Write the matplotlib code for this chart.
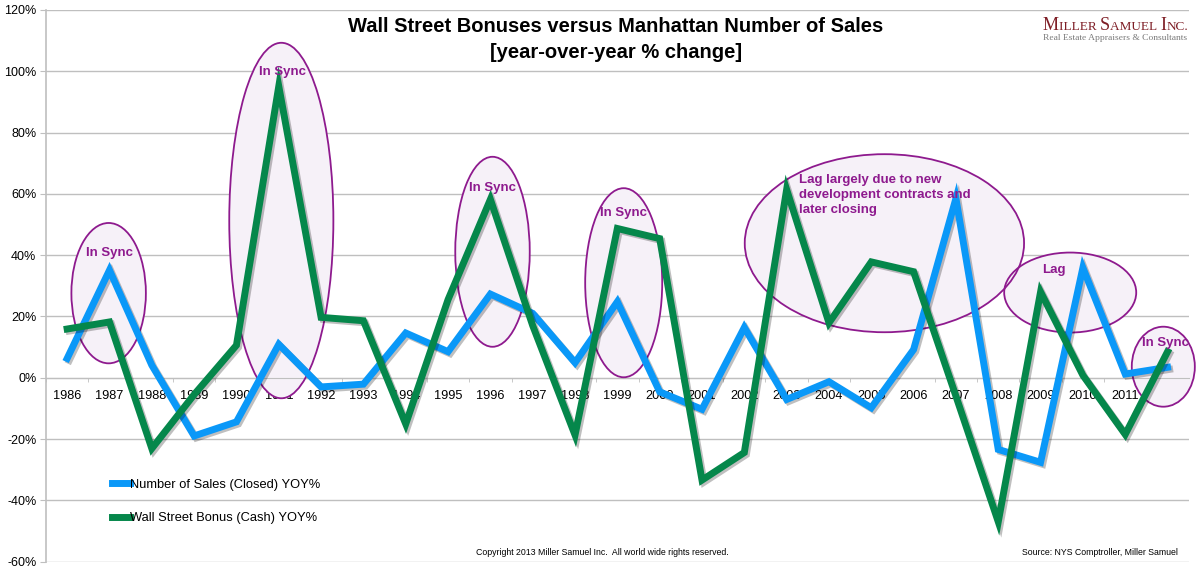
import matplotlib
matplotlib.use("Agg")
import matplotlib.pyplot as plt
import matplotlib.patheffects as pe
from matplotlib.patches import Ellipse
from matplotlib.ticker import FuncFormatter, MultipleLocator

plt.rcParams['font.family'] = ['Liberation Sans', 'DejaVu Sans']

years = list(range(1986, 2013))
sales_yoy = [6.3, 35.1, 4.1, -19.0, -14.4, 10.9, -3.0, -2.1, 14.6, 8.5, 27.3, 21.0, 4.9,
             24.8, -4.6, -10.3, 16.4, -7.1, -1.3, -9.8, 9.2, 58.5, -23.4, -27.6, 35.9, 1.2, 3.4]
bonus_yoy = [15.9, 18.2, -23.1, -5.5, 10.6, 95.1, 19.7, 18.6, -15.1, 25.5, 58.2, 17.0, -18.7,
             48.7, 45.4, -33.4, -24.4, 61.4, 17.9, 37.8, 34.6, -6.0, -47.0, 28.0, 0.8, -18.5, 8.5]

# callouts: (x center, y center, width in years, height in %)
ellipses = [(1986.98, 27.6, 1.76, 45.8), (1991.06, 51.3, 2.46, 116.0), (1996.05, 41.1, 1.76, 62.0),
            (1999.15, 31.0, 1.82, 61.7), (2005.31, 43.9, 6.6, 58.1), (2009.7, 27.8, 3.12, 26.1),
            (2011.9, 3.6, 1.49, 26.1)]
notes = [(1986.99, 40.6, "In Sync", "center"), (1991.09, 99.7, "In Sync", "center"),
         (1996.05, 62.0, "In Sync", "center"), (1999.15, 53.6, "In Sync", "center"),
         (2003.29, 59.6, "Lag largely due to new\ndevelopment contracts and\nlater closing", "left"),
         (2009.31, 35.3, "Lag", "center"), (2011.95, 11.4, "In Sync", "center")]

BLUE = '#0A98F8'
GREEN = '#05874B'
PURPLE = '#8E1A8E'
GRID = '#BFBFBF'

fig = plt.figure(figsize=(12, 5.71), dpi=100)
ax = fig.add_axes([46 / 1200, 1 - 561.6 / 571, (1188.7 - 46) / 1200, (561.6 - 10) / 571])

ax.set_xlim(1985.5, 2012.5)
ax.set_ylim(-60, 120)

for cx, cy, w, h in ellipses:
    ax.add_patch(Ellipse((cx, cy), w, h, facecolor='#F6F1F8', edgecolor='none', zorder=1, clip_on=False))
    ax.add_patch(Ellipse((cx, cy), w, h, facecolor='none', edgecolor=PURPLE, lw=1.3, zorder=3.5, clip_on=False))

shadow = [pe.SimpleLineShadow(offset=(1.5, -1.5), alpha=0.25), pe.Normal()]
ax.plot(years, sales_yoy, color=BLUE, lw=5, solid_joinstyle='miter', zorder=4,
        path_effects=shadow, label='Number of Sales (Closed) YOY%')
ax.plot(years, bonus_yoy, color=GREEN, lw=5, solid_joinstyle='miter', zorder=4,
        path_effects=shadow, label='Wall Street Bonus (Cash) YOY%')

for x, y, t, ha in notes:
    ax.text(x, y, t, color=PURPLE, fontsize=9.5, fontweight='bold', ha=ha, va='center',
            zorder=6, clip_on=False, linespacing=1.32)

ax.yaxis.set_major_locator(MultipleLocator(20))
ax.yaxis.set_major_formatter(FuncFormatter(lambda v, p: f"{v:.0f}%"))
ax.grid(axis='y', color=GRID, lw=1.0, zorder=0)
ax.set_axisbelow(True)

ax.set_xticks(years)
ax.set_xticks([y + 0.5 for y in years[:-1]] + [1985.5, 2012.5], minor=True)
ax.tick_params(axis='x', which='major', length=0, pad=9, labelsize=9.2)
ax.tick_params(axis='x', which='minor', length=3, color=GRID, direction='out')
ax.tick_params(axis='y', length=4, color=GRID, labelsize=9, pad=3)

ax.spines['bottom'].set_position(('data', 0))
ax.spines['bottom'].set_color(GRID)
ax.spines['left'].set_color(GRID)
ax.spines['left'].set_linewidth(1.2)
ax.spines['top'].set_visible(False)
ax.spines['right'].set_visible(False)

leg = ax.legend(loc='upper left', bbox_to_anchor=(100 / 1200, 1 - 467 / 571),
                bbox_transform=fig.transFigure, frameon=False, fontsize=9.3,
                handlelength=1.4, handletextpad=0.05, labelspacing=1.65)
for line in leg.get_lines():
    line.set_linewidth(5)
    line.set_path_effects([])

fig.text(616 / 1200, 1 - 27 / 571, "Wall Street Bonuses versus Manhattan Number of Sales",
         fontsize=14.5, fontweight='bold', ha='center', va='center')
fig.text(616 / 1200, 1 - 52 / 571, "[year-over-year % change]",
         fontsize=14.5, fontweight='bold', ha='center', va='center')

fig.text(602 / 1200, 1 - 552.5 / 571, "Copyright 2013 Miller Samuel Inc.  All world wide rights reserved.",
         fontsize=6.3, ha='center', va='center')
fig.text(1178 / 1200, 1 - 552.5 / 571, "Source: NYS Comptroller, Miller Samuel",
         fontsize=6.3, ha='right', va='center')

# logo in small caps, pieces placed one after another
logo_parts = [("M", 13), ("ILLER ", 9.5), ("S", 13), ("AMUEL ", 9.5), ("I", 13), ("NC.", 9.5)]
fig.canvas.draw()
renderer = fig.canvas.get_renderer()
xpos = 1043
for txt, size in logo_parts:
    t = fig.text(xpos / 1200, 1 - 30 / 571, txt, fontsize=size, color='#7E1E26',
                 family='Liberation Serif', ha='left', va='baseline')
    xpos += t.get_window_extent(renderer).width
fig.text(1043 / 1200, 1 - 40.5 / 571, "Real Estate Appraisers & Consultants", fontsize=6.8,
         color='#7A7A7A', family='Liberation Serif', ha='left', va='baseline')

fig.savefig('out.png', dpi=100)
